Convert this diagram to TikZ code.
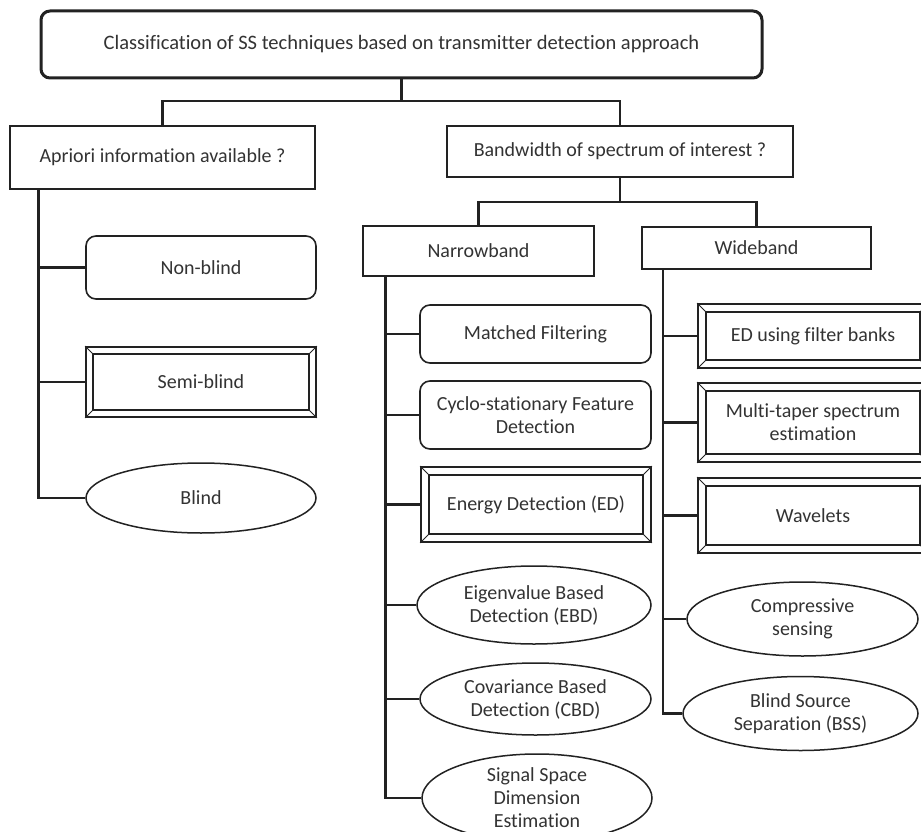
\documentclass[tikz,border=0pt]{standalone}
\usepackage{fontspec}
\setmainfont{Carlito}[Ligatures=NoCommon]
\usetikzlibrary{shapes.geometric,calc}

\definecolor{ink}{HTML}{222222}
\definecolor{txt}{HTML}{333333}

\tikzset{
  base/.style={draw=ink, text=txt, inner sep=0pt, align=center,
    font=\fontsize{20}{23}\selectfont},
  toplevel/.style={base, rounded corners=9pt, line width=3pt,
    font=\fontsize{20.5}{23}\selectfont},
  question/.style={base, line width=2.8pt},
  band/.style={base, line width=2.6pt},
  roundbox/.style={base, rounded corners=10pt, line width=1.6pt},
  bevelbox/.style={base, line width=1.8pt},
  oval/.style={base, ellipse, line width=1.5pt},
  conn/.style={draw=ink, line width=2.6pt},
  bevelin/.style={draw=ink, line width=1.6pt},
  bevelcorner/.style={draw=ink, line width=0.9pt}
}

% inner frame and corner bevels of a framed box
\newcommand\bevelframe[2][9]{%
  \draw[bevelin] ([shift={(#1pt,-#1pt)}]#2.north west) rectangle ([shift={(-#1pt,#1pt)}]#2.south east);
  \draw[bevelcorner] (#2.north west) -- ([shift={(#1pt,-#1pt)}]#2.north west)
    (#2.north east) -- ([shift={(-#1pt,-#1pt)}]#2.north east)
    (#2.south west) -- ([shift={(#1pt,#1pt)}]#2.south west)
    (#2.south east) -- ([shift={(-#1pt,#1pt)}]#2.south east);
}

\begin{document}
\begin{tikzpicture}[x=1pt, y=-1pt]
\useasboundingbox[fill=white] (0,0) rectangle (921,832);

% root and first-level questions
\node[toplevel, minimum width=721pt, minimum height=67pt] (root) at (401.5,44.5)
  {Classification of SS techniques based on transmitter detection approach};
\node[question, minimum width=305pt, minimum height=63pt] (apr) at (162.5,157.5)
  {Apriori information available ?};
\node[question, minimum width=346pt, minimum height=51pt] (bw) at (620,151.5)
  {Bandwidth of spectrum of interest ?};

% bandwidth classes
\node[band, minimum width=231pt, minimum height=50pt] (nb) at (478.5,251) {Narrowband};
\node[band, line width=2.2pt, minimum width=229pt, minimum height=42pt] (wb) at (756.5,248) {Wideband};

% a priori information branch
\node[roundbox, minimum width=230pt, minimum height=63pt] (nonblind) at (201,267.5) {Non-blind};
\node[bevelbox, minimum width=230pt, minimum height=70pt] (semiblind) at (201,382) {Semi-blind};
\node[oval, minimum width=230pt, minimum height=70pt] (blind) at (201,498) {Blind};

% narrowband techniques
\node[roundbox, minimum width=231pt, minimum height=58pt] (mf) at (535.5,334) {Matched Filtering};
\node[roundbox, minimum width=231pt, minimum height=68pt] (cyclo) at (535.5,415)
  {Cyclo-stationary Feature\\Detection};
\node[bevelbox, minimum width=230pt, minimum height=75pt] (ed) at (536,504.5) {Energy Detection (ED)};
\node[oval, minimum width=234pt, minimum height=78pt] (ebd) at (534,605)
  {Eigenvalue Based\\Detection (EBD)};
\node[oval, minimum width=231pt, minimum height=72pt] (cbd) at (535.5,699)
  {Covariance Based\\Detection (CBD)};
\node[oval, minimum width=230pt, minimum height=88pt] (ssde) at (537,798)
  {Signal Space\\Dimension\\Estimation};

% wideband techniques
\node[bevelbox, minimum width=230pt, minimum height=64pt] (edfb) at (813,336) {ED using filter banks};
\node[bevelbox, minimum width=230pt, minimum height=79pt] (mt) at (813,422.5)
  {Multi-taper spectrum\\estimation};
\node[bevelbox, minimum width=230pt, minimum height=75pt] (wv) at (813,515.5) {Wavelets};
\node[oval, minimum width=231pt, minimum height=74pt] (cs) at (802.5,619)
  {Compressive\\sensing};
\node[oval, minimum width=235pt, minimum height=74pt] (bss) at (800.5,713.5)
  {Blind Source\\Separation (BSS)};

\bevelframe[8]{semiblind}
\bevelframe[9]{ed}
\bevelframe[9]{edfb}
\bevelframe[9]{mt}
\bevelframe[9]{wv}

% junctions of the tree
\coordinate (j1) at (401.5,101);
\coordinate (j2) at (620,202);
\coordinate (sa) at ([xshift=30pt]apr.south west);
\coordinate (sn) at ([xshift=24pt]nb.south west);
\coordinate (sw) at ([xshift=22pt]wb.south west);

% connectors
\draw[conn] (root.south) -- (j1);
\draw[conn] (apr.north) |- (j1) -| (bw.north);
\draw[conn] (bw.south) -- (j2);
\draw[conn] (nb.north) |- (j2) -| (wb.north);

\draw[conn] (sa) |- (blind.west);
\draw[conn] (sa |- nonblind.west) -- (nonblind.west);
\draw[conn] (sa |- semiblind.west) -- (semiblind.west);

\draw[conn] (sn) |- (ssde.west);
\foreach \n in {mf, cyclo, ed, ebd, cbd}
  \draw[conn] (sn |- \n.west) -- (\n.west);

\draw[conn] (sw) |- (bss.west);
\foreach \n in {edfb, mt, wv, cs}
  \draw[conn] (sw |- \n.west) -- (\n.west);
\end{tikzpicture}
\end{document}
